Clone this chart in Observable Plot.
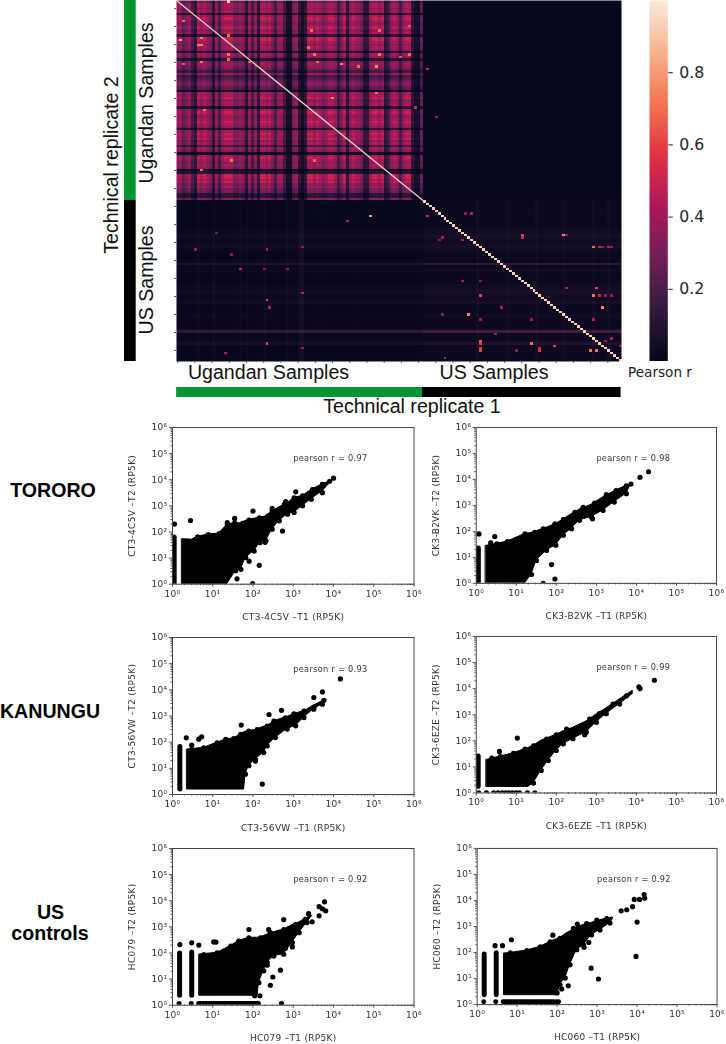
<!DOCTYPE html>
<html><head><meta charset="utf-8">
<script src="https://cdn.jsdelivr.net/npm/d3@7"></script>
<script src="https://cdn.jsdelivr.net/npm/@observablehq/plot@0.6"></script>
<style>
html,body{margin:0;padding:0;background:#fff;overflow:hidden}
#page{position:relative;width:726px;height:1044px;overflow:hidden}
.plotbox{position:absolute}
.t{position:absolute;white-space:nowrap;color:#111;font-family:"Liberation Sans",Arial,sans-serif;font-size:19.6px;line-height:1;transform:translate(-50%,-50%)}
.r{transform:translate(-50%,-50%) rotate(-90deg)}
.b{font-weight:bold;color:#000}
</style></head><body><div id="page"></div>
<script>
// ---------- heatmap: estimates ----------
const sampleCount = 150, ugandanCount = 83;
const rocketStops = ["#03051a","#35193e","#701f57","#ad1759","#e13342","#f37651","#f6b48f","#faebdd"];
// brightness of each Ugandan column and row (0 dark – 9 bright)
const ugandanColumnLevels = "66456"+"32767"+"65263"+"67775"+"56526"+"36277"+"67536"+"63115"+"62127"+"76765"+"67763"+"57267"+"66522"+"67767"+"23676"+"36772"+"114";
const ugandanRowLevels = "5776727876"+"7867288767"+"6276267653"+"7345654177"+"8677278767"+"8762787867"+"3761787676"+"1288786755"+"226";
// faint cross-talk outside the Ugandan block
const usRowFaint = "0000111011"+"1122332233"+"2111115122"+"1111122332"+"2231111221"+"1112611124"+"1111000";
const ugColFaint = "0000000200"+"0020000001"+"0202000002"+"0010000200"+"0330000010"+"0000000000"+"1000000000"+"0000000000"+"000";
const usColFaint = "0000000000"+"0000000020"+"0000000020"+"0000000020"+"0000000200"+"0000000200"+"0020000";
// isolated bright cells: column, row, r
const hotCells = [
[16.5,0,.9],[0.9,16,.85],[8,15,.75],[8,18,.75],[2,8,.7],[17,14,.7],[9,45,.72],[45,12,.7],[52,40,.75],[67,38,.7],[80,44,.55],[68,12,.7],[46,66,.7],[78,10,.65],[18,66,.72],[8,70,.7],
[7.9,24.9,.72],[7.3,18,.74],[17,24,.7],[17.4,22,.72],[24,25,.66],[44,19.4,.7],[46,22,.72],[47,25,.68],[55,25.6,.75],[61,27,.7],[67,27,.78],[68,22,.72],[2.2,26,.66],[75,23,.64],[77.5,22,.7],
[84,28,.5],[87,48,.4],
[64.7,88.9,.8],[57.4,91.4,.45],[84,88.9,.5],[30.4,102.5,.45],[12.5,96.2,.3],[20.9,110.8,.5],[37.2,111,.4],[29.1,111.4,.35],[41.7,121.1,.5],[30.4,123.6,.6],[17.5,105.2,.35],[31,126.7,.45],[30.4,142.2,.6],[15.8,145.7,.45],[41.7,144.3,.4],[5.5,102.5,.35],[41.7,101.8,.35],
[88.9,97.6,.45],[87.5,98.7,.4],[96.2,98.7,.45],[98.8,87.5,.45],[97.3,88.3,.35],[116,96.6,.6],[116,98.3,.5],[129.6,97.3,.75],[131.2,97.3,.4],[140.3,102.2,.7],[141.7,102.2,.5],[142.8,102.2,.4],[144.5,102.2,.45],[146,102.2,.4],[102.1,122.1,.6],[96.2,116,.4],[102.4,115.6,.35],[131.2,118.6,.45],[141.1,118.6,.6],[140.3,122.1,.7],[141.7,122.1,.5],[144.2,122,.4],[145.6,122,.35],[143,126.7,.75],[108.8,126.7,.45],[97.5,129.9,.75],[88.9,130.2,.35],[102.1,131.5,.4],[118.7,131.5,.4],[140.3,131.5,.45],[107.4,138.2,.4],[102.1,140.5,.65],[102.1,141.9,.6],[102.1,143.7,.55],[102.1,145.4,.6],[118.7,141.5,.7],[126.5,142.9,.6],[121.5,144.3,.5],[122,145.4,.55],[113.6,144.5,.35],[139.4,145.4,.7],[140.5,145.4,.7],[145.6,139.5,.45],[143.9,140.5,.4],[90,148.2,.4],[149,143.3,.4]
];
const usDiagonal = .93;
const diagonalLine = [[0,0],[83,83]];
const colorbarTicks = [.2,.4,.6,.8];
const groups = [{name:"Ugandan Samples",from:0,to:83,color:"#009530"},{name:"US Samples",from:83,to:150,color:"#000"}];

// ---------- scatter panels: [x, lower edge, upper edge] of the solid mass,
// stripes: [x, y from, y to], rows: [x from, x to, y], up/low: edge points, outliers: [x, y] ----------
const decades = [1,1e1,1e2,1e3,1e4,1e5,1e6];
const minorMultipliers = [2,3,4,5,6,7,8,9];
const tororoCtBand = [[1.75,1,58],[3,1,55],[4.2,1,71],[7.7,1,87],[14.5,1,95],[23,1,210],[37,3,245],[50,3.4,230],[66,9.6,290],[107,17,350],[150,36,380],[210,42,430],[300,117,680],[450,245,950],[720,440,1350],[1050,510,2200],[1700,920,2600],[2800,1650,4400],[5300,3300,7200],[8000,6500,9500],[10000,10000,11000]];
const tororoCtStripes = [[1.1,1,62]];
const tororoCtUp = [[4.2,71],[7.7,87],[14.5,95],[23,210],[35,245],[55,230],[80,310],[143,380],[230,440],[300,680],[600,1230],[1050,2200],[1700,2600],[3000,4600],[5300,7200],[8000,9500]];
const tororoCtLow = [[37,3],[50,3.4],[66,9.6],[107,17],[150,36],[210,42],[300,117],[450,245],[720,440],[1050,510],[1700,920],[2800,1650]];
const tororoCtOutliers = [[1.12,200],[2.8,275],[23,230],[35,330],[100,630],[1150,3450],[300,800],[650,1450],[540,108],[200,40],[143,5.3],[80,7.6],[98,1.05],[5300,3200],[40,1.6],[10000,11500]];
const tororoCkBand = [[1.75,1,30],[3.3,1,36],[6,1,44],[16.5,1,87],[24,2.2,95],[32,7,110],[57,17,150],[97,27,210],[150,65,310],[240,117,500],[380,245,750],[750,330,1150],[1470,590,2200],[2800,1230,3800],[5600,2600,6200],[7300,6000,7200]];
const tororoCkStripes = [[1.13,1,22]];
const tororoCkUp = [[3.3,36],[6,44],[16.5,87],[29,100],[47,135],[92,210],[150,310],[290,590],[465,920],[900,1340],[1770,2600],[3100,4000],[5600,6200],[7300,7200]];
const tororoCkLow = [[24,2.2],[32,7],[57,17],[97,27],[150,65],[240,117],[380,245],[750,330],[1470,590],[2800,1230],[5600,2600]];
const tororoCkOutliers = [[1.17,80],[2.9,63],[2.3,36],[76,5.3],[92,1.47],[47,1],[12300,12000],[20000,19700],[800,310],[1770,2600]];
const kanunguCtBand = [[2.33,1.55,57],[6,1.55,66],[12.8,1.55,103],[21,1.55,138],[33,1.55,150],[49,1.55,215],[60,1.55,260],[65,5.5,270],[79,11.5,290],[115,20,320],[185,37,420],[225,66,445],[360,137,720],[710,290,1000],[1150,385,1350],[1850,800,1660],[3250,1670,2700],[5300,2600,4000],[5700,3200,4600]];
const kanunguCtStripes = [[1.52,1.55,66]];
const kanunguCtUp = [[3,57],[6,66],[12.8,103],[21,138],[33,150],[49,215],[79,290],[127,330],[225,445],[330,690],[640,930],[1040,1320],[1850,1660],[3250,2360]];
const kanunguCtLow = [[65,5.5],[79,11.5],[115,20],[185,37],[225,66],[360,137],[710,290],[1150,385],[1850,800],[3250,1670],[5300,2600]];
const kanunguCtOutliers = [[2.2,146],[4.5,130],[5.3,160],[3,77],[51,450],[170,2.5],[250,1140],[510,1650],[3250,5100],[5300,8300],[5800,4000],[14800,26000],[115,19]];
const kanunguCkBand = [[1.82,1.7,20],[4,1.7,27],[8.5,1.7,36],[16.5,1.7,52],[20,1.7,58],[27,2.4,70],[42,6.7,110],[63,16,140],[100,39,185],[150,70,250],[260,110,340],[560,197,600],[1000,475,1100],[1770,1000,1900],[3800,2350,4200],[8100,5700,9000]];
const kanunguCkStripes = [[1.12,1.7,25]];
const kanunguCkRows = [[1.15,1],[1.8,1],[2.7,1],[3.5,1],[4.5,1],[5.5,1],[6.5,1],[8,1],[10,1],[12,1],[19,1],[29,1]];
const kanunguCkUp = [[4,27],[8.5,36],[16.5,52],[27,70],[57,127],[100,185],[180,305],[380,355],[680,740],[1200,1200],[2600,2750],[5600,5700]];
const kanunguCkLow = [[27,2.4],[42,6.7],[63,16],[100,39],[150,70],[260,110],[560,197],[1000,475],[1770,1000],[3800,2350]];
const kanunguCkOutliers = [[10.6,127],[3.8,39],[2.45,21.7],[510,170],[11500,11800],[12300,10000],[28000,21000]];
const usAaBand = [[4.7,2.3,95],[12.8,2.3,110],[28,2.3,200],[44,2.3,310],[79,2.3,415],[130,2.3,415],[140,6.7,415],[185,19,480],[225,40,550],[330,70,680],[580,82,860],[950,230,1250],[1400,550,1600],[2200,1340,2400],[2950,2400,2900]];
const usAaStripes = [[1.5,2.3,95],[3,2.3,105]];
const usAaRows = [[1.5,1.5,1.15],[3,3,1.15],[4.6,140,1.15]];
const usAaUp = [[6,95],[12.8,110],[28,200],[44,310],[79,415],[154,415],[270,650],[580,860],[1140,1340],[2000,2100]];
const usAaLow = [[140,6.7],[185,19],[225,40],[330,70],[580,82],[950,230],[1400,550],[2200,1340]];
const usAaOutliers = [[1.52,210],[3,245],[4.5,200],[10.6,265],[12,260],[79,790],[245,790],[580,1900],[510,1.15],[110,2.3],[148,2.3],[225,34],[310,12],[270,5.8],[480,22],[950,170],[640,150],[6000,9100],[6400,4100],[4400,2650],[4400,5900],[5300,4900],[2400,3200],[2950,1550]];
const usBbBand = [[4.8,2.3,100],[6.8,2.3,105],[17.5,2.3,130],[38,2.3,180],[67,2.3,280],[100,2.3,360],[118,5.3,380],[160,9.6,550],[210,31,700],[310,117,1000],[460,180,1250],[730,440,1500],[1180,680,1900],[2100,1240,2300],[2500,1800,2400]];
const usBbStripes = [[1.5,2.3,85],[3,2.3,95]];
const usBbRows = [[1.5,1.5,1.3],[3,3,1.3],[4.6,85,1.3],[100,112,1.3]];
const usBbUp = [[6.8,105],[17.5,130],[38,180],[67,280],[118,380],[255,920],[550,1420],[980,1900],[1740,2200]];
const usBbLow = [[118,5.3],[160,9.6],[210,31],[310,117],[460,180],[730,440],[1180,680],[2100,1240]];
const usBbOutliers = [[7.2,310],[78,465],[2.8,183],[4.3,183],[320,1240],[470,158],[620,245],[710,25],[1080,9.6],[9400,71],[10000,1480],[7700,5800],[5500,4400],[4000,4000],[8500,11000],[11500,11000],[15000,16800],[15500,12200],[190,5.3],[140,15],[100,2.8],[130,4]];

const page = document.getElementById("page");
function put(el,left,top){const box=document.createElement("div");box.className="plotbox";box.style.left=left+"px";box.style.top=top+"px";box.appendChild(el);page.appendChild(box);return box;}
function label(text,x,y,cls,css){const d=document.createElement("div");d.className="t "+(cls||"");d.style.left=x+"px";d.style.top=y+"px";d.textContent=text;if(css)Object.assign(d.style,css);page.appendChild(d);}

// heatmap values
const matrix = new Array(sampleCount*sampleCount);
for(let row=0;row<sampleCount;row++)for(let col=0;col<sampleCount;col++){
  let v;
  const ugRow=row<ugandanCount, ugCol=col<ugandanCount;
  if(ugRow&&ugCol) v=(+ugandanRowLevels[row])*(+ugandanColumnLevels[col])/81*.72;
  else if(ugRow) v=.012;
  else if(ugCol) v=.012+.003*(+usRowFaint[row-83])**2+.004*(+ugColFaint[col])**2;
  else v=.02+.004*(+usRowFaint[row-83])**2+.005*(+usColFaint[col-83])**2;
  matrix[row*sampleCount+col]=v;
}
for(const [c,r,v] of hotCells) matrix[Math.round(r)*sampleCount+Math.round(c)]=v;
for(let i=ugandanCount;i<sampleCount;i++) matrix[i*sampleCount+i]=usDiagonal;

const colorScale={type:"linear",domain:rocketStops.map((_,i)=>i/7),range:rocketStops,clamp:true};

put(Plot.plot({width:449,height:364,marginLeft:2,marginRight:2,marginTop:0,marginBottom:3,
  x:{domain:[0,sampleCount],range:[2,447]},y:{domain:[0,sampleCount],range:[0,361]},color:colorScale,
  style:{background:"transparent"},
  marks:[
    Plot.raster(matrix,{width:sampleCount,height:sampleCount,x1:0,x2:sampleCount,y1:0,y2:sampleCount,imageRendering:"pixelated"}),
    Plot.line(diagonalLine,{x:d=>d[0],y:d=>d[1],stroke:"#e9d8c8",strokeWidth:1.2}),
    Plot.axisX({anchor:"bottom",ticks:d3.range(.4,150,5.8),tickFormat:()=>"",label:null,tickSize:2,stroke:"#555"}),
    Plot.axisY({anchor:"left",ticks:d3.range(3.3,150,7.48),tickFormat:()=>"",label:null,tickSize:2,stroke:"#555"})
  ]}),174.3,0);

// colourbar
const colorbarLevels=d3.range(0,1,.005);
put(Plot.plot({width:70,height:361,marginLeft:0,marginRight:51.7,marginTop:0,marginBottom:0,
  x:{domain:[0,1],axis:null},y:{domain:[0,1]},color:colorScale,
  style:{fontFamily:"DejaVu Sans",fontSize:"15.7px",color:"#222",background:"transparent"},
  marks:[
    Plot.raster(colorbarLevels,{width:1,height:colorbarLevels.length,x1:0,x2:1,y1:0,y2:1,imageRendering:"auto"}),
    Plot.axisY({anchor:"right",ticks:colorbarTicks,tickFormat:d3.format(".1f"),label:null,tickSize:4.5,tickPadding:7})
  ]}),649,0);

// group bars
put(Plot.plot({width:444.7,height:10.6,margin:0,x:{domain:[0,sampleCount],axis:null},y:{domain:[0,1],axis:null},
  marks:[Plot.rect(groups,{x1:"from",x2:"to",y1:0,y2:1,fill:d=>d.color})]}),176.3,386.7);
put(Plot.plot({width:11.7,height:361.7,margin:0,x:{domain:[0,1],axis:null},y:{domain:[0,sampleCount],range:[0,361.7],axis:null},
  marks:[Plot.rect(groups,{x1:0,x2:1,y1:"from",y2:"to",fill:d=>d.color})]}),124.3,0);

label("Ugandan Samples",268.5,373);
label("US Samples",494,373);
label("Technical replicate 1",412,406.7);
label("Pearson r",660,372.6,"",{fontFamily:"DejaVu Sans",fontSize:"13.6px",color:"#222"});
label("Technical replicate 2",112,165,"r");
label("Ugandan Samples",147,102.5,"r");
label("US Samples",147,280,"r");
label("TORORO",53,490.6,"b");
label("KANUNGU",50,712,"b");
label("US",50.5,912.7,"b");
label("controls",50,934,"b");

const superscripts="⁰¹²³⁴⁵⁶";
const minors=decades.slice(0,-1).flatMap(d=>minorMultipliers.map(m=>d*m));
const px=d=>d[0], py=d=>d[1];
// edge points and band edges are read at the outer edge of the dots: centres sit inside that edge
const inTop=v=>v*.92, inBottom=v=>v<3?v:v*1.09;
function panel({left,top,h=156.7,xLabel,yLabel,pearson,band,stripes=[],rows=[],dots=[],up=[],low=[],outliers=[]}){
  const ML=52,MT=10,MB=46,MR=10,W=241.5;
  const plot=Plot.plot({width:ML+W+MR,height:MT+h+MB,marginLeft:ML,marginTop:MT,marginBottom:MB,marginRight:MR,
    x:{type:"log",domain:[1,1e6]},y:{type:"log",domain:[1,1e6]},
    style:{fontFamily:"DejaVu Sans",fontSize:"11.2px",letterSpacing:".3px",color:"#333",background:"transparent",filter:"blur(.3px)"},
    marks:[
      Plot.areaY(band,{x:d=>d[0],y1:d=>inBottom(d[1]),y2:d=>inTop(d[2]),fill:"#000",stroke:"#000",strokeWidth:1,strokeLinejoin:"round",clip:true}),
      Plot.ruleX(stripes,{x:d=>d[0],y1:d=>d[1],y2:d=>d[2],stroke:"#000",strokeWidth:5,strokeLinecap:"round",clip:true}),
      Plot.ruleY(rows,{x1:d=>d[0],x2:d=>d[1],y:d=>d[2],stroke:"#000",strokeWidth:5,strokeLinecap:"round",clip:true}),
      Plot.dot(dots,{x:px,y:py,r:2.6,fill:"#000",clip:true}),
      Plot.dot(up,{x:px,y:d=>inTop(d[1]),r:2.6,fill:"#000",clip:true}),
      Plot.dot(low,{x:px,y:d=>inBottom(d[1]),r:2.6,fill:"#000",clip:true}),
      Plot.dot(outliers,{x:px,y:py,r:2.6,fill:"#000",clip:true}),
      Plot.text([pearson],{x:1000,y:63000,text:d=>d,textAnchor:"start",fill:"#333",fontSize:8.2}),
      Plot.axisX({ticks:minors,tickFormat:()=>"",label:null,tickSize:1.5,stroke:"#555"}),
      Plot.axisY({ticks:minors,tickFormat:()=>"",label:null,tickSize:1.5,stroke:"#555"}),
      Plot.axisX({ticks:decades,tickFormat:d=>"10"+superscripts[Math.round(Math.log10(d))],tickSize:3,tickPadding:3,stroke:"#555",fill:"#333",fontSize:9,label:xLabel,labelAnchor:"center",labelArrow:"none",labelOffset:36}),
      Plot.axisY({ticks:decades,tickFormat:d=>"10"+superscripts[Math.round(Math.log10(d))],tickSize:3,tickPadding:2,stroke:"#555",fill:"#333",fontSize:9,label:yLabel,labelAnchor:"center",labelArrow:"none",labelOffset:44}),
      Plot.frame({stroke:"#444",strokeWidth:1})
    ]});
  put(plot,left-ML,top-MT);
}
panel({left:171.7,top:427.3,xLabel:"CT3-4C5V –T1 (RP5K)",yLabel:"CT3-4C5V –T2 (RP5K)",pearson:"pearson r = 0.97",band:tororoCtBand,stripes:tororoCtStripes,up:tororoCtUp,low:tororoCtLow,outliers:tororoCtOutliers});
panel({left:476,top:427.3,xLabel:"CK3-B2VK –T1 (RP5K)",yLabel:"CK3-B2VK –T2 (RP5K)",pearson:"pearson r = 0.98",band:tororoCkBand,stripes:tororoCkStripes,up:tororoCkUp,low:tororoCkLow,outliers:tororoCkOutliers});
panel({left:172,top:637.3,h:157,xLabel:"CT3-56VW –T1 (RP5K)",yLabel:"CT3-56VW –T2 (RP5K)",pearson:"pearson r = 0.93",band:kanunguCtBand,stripes:kanunguCtStripes,up:kanunguCtUp,low:kanunguCtLow,outliers:kanunguCtOutliers});
panel({left:476,top:636,h:157.3,xLabel:"CK3-6EZE –T1 (RP5K)",yLabel:"CK3-6EZE –T2 (RP5K)",pearson:"pearson r = 0.99",band:kanunguCkBand,stripes:kanunguCkStripes,dots:kanunguCkRows,up:kanunguCkUp,low:kanunguCkLow,outliers:kanunguCkOutliers});
panel({left:172,top:848.3,xLabel:"HC079 –T1 (RP5K)",yLabel:"HC079 –T2 (RP5K)",pearson:"pearson r = 0.92",band:usAaBand,stripes:usAaStripes,rows:usAaRows,up:usAaUp,low:usAaLow,outliers:usAaOutliers});
panel({left:476.5,top:848.3,h:157.2,xLabel:"HC060 –T1 (RP5K)",yLabel:"HC060 –T2 (RP5K)",pearson:"pearson r = 0.92",band:usBbBand,stripes:usBbStripes,rows:usBbRows,up:usBbUp,low:usBbLow,outliers:usBbOutliers});
</script></body></html>
